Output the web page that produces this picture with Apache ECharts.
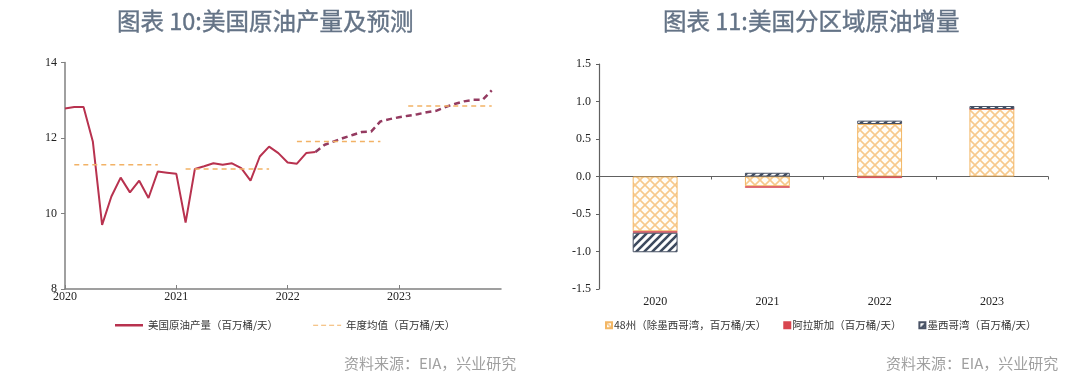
<!DOCTYPE html>
<html>
<head>
<meta charset="utf-8">
<script src="https://cdn.jsdelivr.net/npm/echarts@6/dist/echarts.min.js"></script>
<style>
html,body{margin:0;padding:0;background:#fff;}
#c{width:1080px;height:383px;}
</style>
</head>
<body>
<div id="c"></div>
<script>
// ---------- data ----------
const years = [2020, 2021, 2022, 2023];
// monthly US crude production, Jan 2020 – Apr 2022 (actual)
const production = [12.78,12.82,12.82,11.91,9.70,10.45,10.95,10.56,10.87,10.41,11.11,11.08,
                    11.05,9.76,11.18,11.25,11.33,11.29,11.33,11.20,10.87,11.51,11.77,11.60,
                    11.35,11.32,11.60,11.63];
// forecast, Apr 2022 – Nov 2023
const forecast = [11.63,11.82,11.91,12.00,12.08,12.16,12.17,12.44,12.50,12.55,12.59,12.63,
                  12.68,12.72,12.82,12.90,12.97,13.01,13.01,13.26];
const forecastStart = 27;
const annualAvg = [11.29, 11.18, 11.91, 12.85];

const barYears = ['2020', '2021', '2022', '2023'];
const lower48 = [-0.73, -0.13, 0.70, 0.90];
const alaska  = [-0.02, -0.02, -0.02, 0.00];
const gulf    = [-0.26, 0.05, 0.045, 0.04];

const yTicksLeft = [8, 14, 2];
const yTicksRight = [-1.5, 1.5, 0.5];

// ---------- derived ----------
const months = [];
years.forEach(y => { for (let m = 1; m <= 12; m++) months.push(y + '-' + (m < 10 ? '0' + m : m)); });
const prodSeries = months.map((_, i) => i < production.length ? production[i] : null);
const fcSeries = months.map((_, i) => (i >= forecastStart && i - forecastStart < forecast.length) ? forecast[i - forecastStart] : null);
const avgSeries = months.map((_, i) => { const k = i % 12; return (k >= 1 && k <= 10) ? annualAvg[Math.floor(i / 12)] : null; });

// ---------- patterns ----------
function crossHatch() {
  const c = document.createElement('canvas'); c.width = 10; c.height = 10;
  const g = c.getContext('2d');
  g.fillStyle = '#FFFDF8'; g.fillRect(0, 0, 10, 10);
  g.strokeStyle = '#F7C98C'; g.lineWidth = 1.6;
  g.beginPath(); g.moveTo(0, 0); g.lineTo(10, 10); g.moveTo(10, 0); g.lineTo(0, 10); g.stroke();
  return c;
}
function stripes(color) {
  const c = document.createElement('canvas'); c.width = 8; c.height = 8;
  const g = c.getContext('2d');
  g.fillStyle = '#FFFFFF'; g.fillRect(0, 0, 8, 8);
  g.strokeStyle = color; g.lineWidth = 2.6;
  g.beginPath();
  g.moveTo(-2, 10); g.lineTo(10, -2);
  g.moveTo(-6, 6); g.lineTo(6, -6);
  g.moveTo(2, 14); g.lineTo(14, 2);
  g.stroke();
  return c;
}

const serif = 'Liberation Serif';
const cjk = 'Noto Sans CJK SC';
const titleColor = '#647386';
const dashIcon = 'path://M0,0h5v1h-5zM8,0h5v1h-5zM16,0h5v1h-5zM24,0h4v1h-4z';

const chart = echarts.init(document.getElementById('c'), null, { renderer: 'canvas' });
chart.setOption({
  animation: false,
  backgroundColor: '#ffffff',
  title: [
    { text: '图表 10:美国原油产量及预测', left: 112, top: 4, textStyle: { fontFamily: cjk, fontSize: 23.5, fontWeight: 'normal', color: titleColor, textBorderColor: titleColor, textBorderWidth: 0.4 } },
    { text: '图表 11:美国分区域原油增量', left: 658, top: 4, textStyle: { fontFamily: cjk, fontSize: 23.5, fontWeight: 'normal', color: titleColor, textBorderColor: titleColor, textBorderWidth: 0.4 } },
    { text: '资料来源：EIA，兴业研究', left: 339, top: 351, textStyle: { fontFamily: cjk, fontSize: 15, fontWeight: 'normal', color: '#A0A0A0' } },
    { text: '资料来源：EIA，兴业研究', left: 881, top: 351, textStyle: { fontFamily: cjk, fontSize: 15, fontWeight: 'normal', color: '#A0A0A0' } }
  ],
  legend: [
    { left: 110, top: 315, itemWidth: 28, itemHeight: 2.5, itemGap: 35,
      textStyle: { fontFamily: cjk, fontSize: 10.5, color: '#333' },
      data: [{ name: '美国原油产量（百万桶/天）', icon: 'rect' },
             { name: '年度均值（百万桶/天）', icon: dashIcon }] },
    { left: 600, top: 315, itemWidth: 6, itemHeight: 6, itemGap: 17, icon: 'rect',
      textStyle: { fontFamily: cjk, fontSize: 10.5, color: '#333', padding: [0, 0, 0, -3] },
      data: ['48州（除墨西哥湾，百万桶/天）', '阿拉斯加（百万桶/天）', '墨西哥湾（百万桶/天）'] }
  ],
  grid: [
    { left: 65, right: 579, top: 62.5, bottom: 94 },
    { left: 599, right: 32, top: 64, bottom: 94 }
  ],
  xAxis: [
    { type: 'category', gridIndex: 0, data: months, boundaryGap: false,
      axisLine: { lineStyle: { color: '#808080', width: 1.5 } },
      axisTick: { inside: true, length: 4, interval: (i) => i % 12 === 0, lineStyle: { color: '#808080' } },
      axisLabel: { interval: (i) => i % 12 === 0, formatter: (v) => v.slice(0, 4), margin: 2,
        fontFamily: serif, fontSize: 12, color: '#222' },
      splitLine: { show: false } },
    { type: 'category', gridIndex: 1, data: barYears, position: 'bottom',
      axisLine: { onZero: true, lineStyle: { color: '#606060', width: 1.2 } },
      axisTick: { show: true, length: 3, lineStyle: { color: '#606060' } },
      axisLabel: { show: false }, splitLine: { show: false } },
    { type: 'category', gridIndex: 1, data: barYears, position: 'bottom',
      axisLine: { show: false, onZero: false }, axisTick: { show: false },
      axisLabel: { margin: 7, fontFamily: serif, fontSize: 12, color: '#222' },
      splitLine: { show: false } }
  ],
  yAxis: [
    { type: 'value', gridIndex: 0, min: yTicksLeft[0], max: yTicksLeft[1], interval: yTicksLeft[2],
      axisLine: { show: true, lineStyle: { color: '#808080', width: 1.5 } },
      axisTick: { show: true, length: 4, lineStyle: { color: '#808080' } },
      axisLabel: { margin: 8, fontFamily: serif, fontSize: 12, color: '#222' },
      splitLine: { show: false } },
    { type: 'value', gridIndex: 1, min: yTicksRight[0], max: yTicksRight[1], interval: yTicksRight[2],
      axisLine: { show: true, lineStyle: { color: '#606060', width: 1.2 } },
      axisTick: { show: true, length: 3, lineStyle: { color: '#606060' } },
      axisLabel: { margin: 8, formatter: (v) => v.toFixed(1), fontFamily: serif, fontSize: 12, color: '#222' },
      splitLine: { show: false } }
  ],
  series: [
    { name: '美国原油产量（百万桶/天）', type: 'line', xAxisIndex: 0, yAxisIndex: 0, data: prodSeries,
      symbol: 'none', lineStyle: { color: '#B8324F', width: 2 }, itemStyle: { color: '#B8324F' } },
    { name: '美国原油产量（百万桶/天）', type: 'line', xAxisIndex: 0, yAxisIndex: 0, data: fcSeries,
      symbol: 'none', lineStyle: { color: '#943A60', width: 2.5, type: [6, 4] }, itemStyle: { color: '#943A60' } },
    { name: '年度均值（百万桶/天）', type: 'line', xAxisIndex: 0, yAxisIndex: 0, data: avgSeries,
      symbol: 'none', connectNulls: false, lineStyle: { color: '#F2B266', width: 1.5, type: [5, 4] }, itemStyle: { color: '#F2B266' } },
    { name: '48州（除墨西哥湾，百万桶/天）', type: 'bar', xAxisIndex: 1, yAxisIndex: 1, stack: 'a', barWidth: '40%', data: lower48,
      itemStyle: { color: { image: crossHatch(), repeat: 'repeat' }, borderColor: '#F3B765', borderWidth: 1 } },
    { name: '阿拉斯加（百万桶/天）', type: 'bar', xAxisIndex: 1, yAxisIndex: 1, stack: 'a', barWidth: '40%', data: alaska,
      itemStyle: { color: '#D8464F', borderColor: '#D8464F', borderWidth: 0.8 } },
    { name: '墨西哥湾（百万桶/天）', type: 'bar', xAxisIndex: 1, yAxisIndex: 1, stack: 'a', barWidth: '40%', data: gulf,
      itemStyle: { color: { image: stripes('#3D4A5E'), repeat: 'repeat' }, borderColor: '#4A5366', borderWidth: 1 } }
  ]
});
</script>
</body>
</html>
